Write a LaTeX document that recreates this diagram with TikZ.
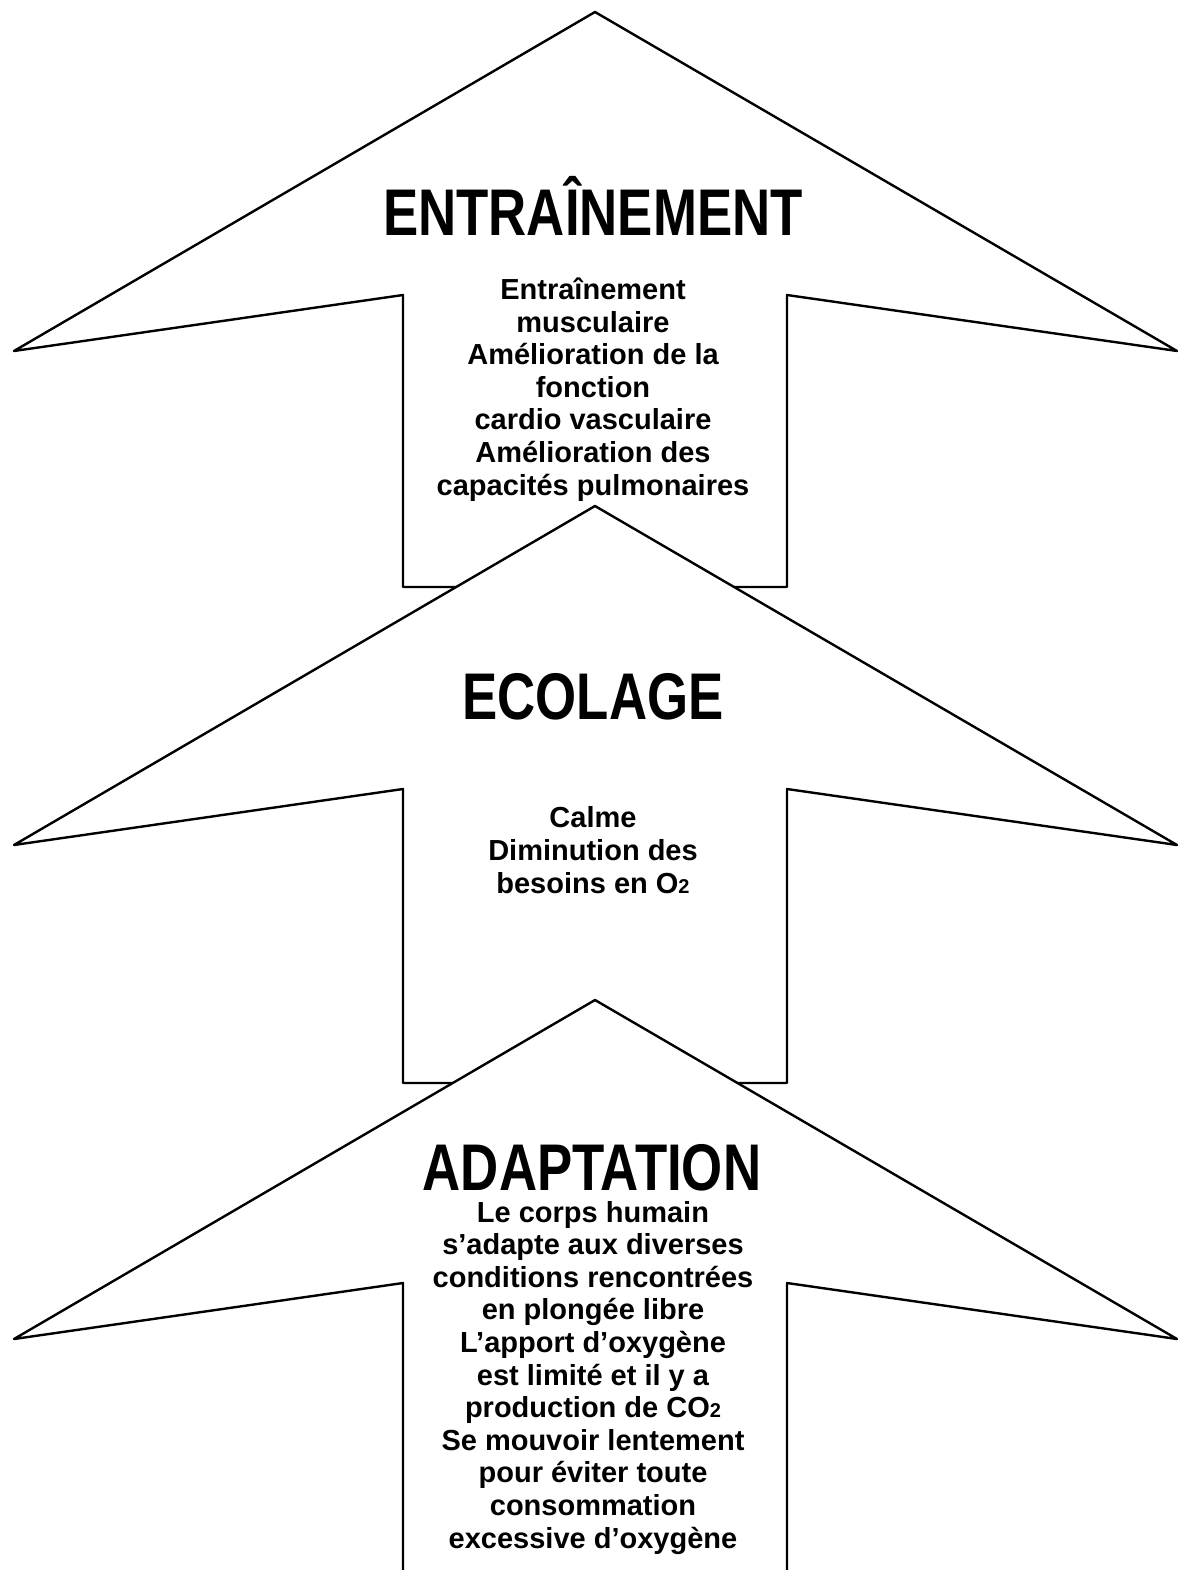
\documentclass[tikz,border=0pt]{standalone}
\usepackage{fontspec}
\setmainfont{Liberation Sans}
\newfontfamily\headfont[FakeStretch=0.8]{Liberation Sans}
\newcommand\lowtwo{{\fontsize{20}{20}\selectfont 2}}

\tikzset{
  arrowbox/.style = {draw=black, fill=white, line width=2.4pt, line join=round},
  heading/.style  = {font=\headfont\bfseries\fontsize{66}{66}\selectfont, anchor=base, inner sep=0pt},
  bodytext/.style = {font=\bfseries\fontsize{29}{32.6}\selectfont, align=center, anchor=base, inner sep=0pt},
}

\begin{document}
\begin{tikzpicture}[x=1pt, y=-1pt]

\useasboundingbox (0,0) rectangle (1180,1570);

% top arrow
\draw[arrowbox] (595,12) -- (1177,351) -- (787,295) -- (787,587) -- (403,587) -- (403,295) -- (14,351) -- cycle;
\node[heading] (train) at (593,236) {ENTRAÎNEMENT};
\node[bodytext] (train_txt) at (593,495) {Entraînement\\musculaire\\Amélioration de la\\fonction\\cardio vasculaire\\Amélioration des\\capacités pulmonaires};

% middle arrow
\draw[arrowbox] (595,506) -- (1177,845) -- (787,789) -- (787,1083) -- (403,1083) -- (403,789) -- (14,845) -- cycle;
\node[heading] (school) at (593,719) {ECOLAGE};
\node[bodytext] (school_txt) at (593,893) {Calme\\Diminution des\\besoins en O\lowtwo};

% bottom arrow
\draw[arrowbox] (787,1580) -- (787,1283) -- (1177,1339) -- (595,1000) -- (14,1339) -- (403,1283) -- (403,1580);
\node[heading] (adapt) at (592,1190) {ADAPTATION};
\node[bodytext] (adapt_txt) at (593,1548) {Le corps humain\\s’adapte aux diverses\\conditions rencontrées\\en plongée libre\\L’apport d’oxygène\\est limité et il y a\\production de CO\lowtwo\\Se mouvoir lentement\\pour éviter toute\\consommation\\excessive d’oxygène};

\end{tikzpicture}
\end{document}
